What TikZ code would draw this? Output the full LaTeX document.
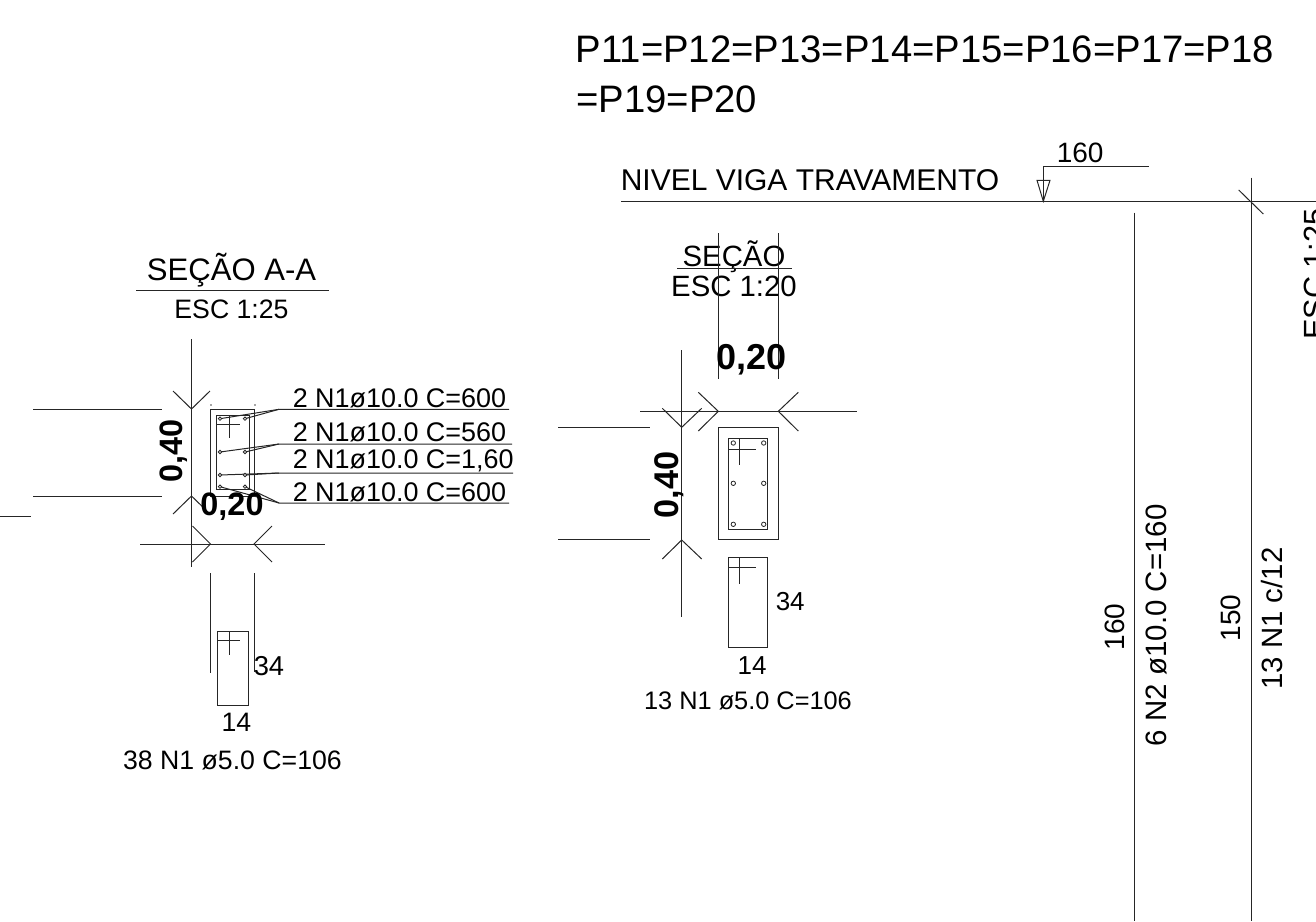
\documentclass[tikz,border=0pt]{standalone}
\usepackage{fontspec}
\setmainfont{Liberation Sans}
\tikzset{
  txt/.style = {inner sep=0pt, anchor=base west, font=\fontsize{#1}{#1}\selectfont},
  txtc/.style = {inner sep=0pt, anchor=base, font=\fontsize{#1}{#1}\selectfont},
  dimbold/.style = {inner sep=0pt, anchor=base, font=\fontsize{#1}{#1}\selectfont\bfseries},
  thinline/.style = {line width=0.75pt, black!85},
  bar/.style = {line width=0.6pt, fill=white, draw=black!85},
}
\begin{document}
\begin{tikzpicture}[x=0.75pt, y=-0.75pt]
    \useasboundingbox (0,0) rectangle (1316,921);
    % heading
    \node [txt=28.7] (headA) at (575.5,62) {P11=P12=P13=P14=P15=P16=P17=P18};
    \node [txt=28.7] (headB) at (576,112.5) {=P19=P20};
    % left section
    \node [txtc=23.3] (titleA) at (231.5,280) {SEÇÃO A-A};
    \node [txtc=20] (escA) at (231.5,318.5) {ESC 1:25};
    \draw [thinline] (136,290) --++ (193,0);
    \draw [thinline] (191.5,339) -- (191.5,567);
    \draw [thinline] (173,391) -- (191.5,409) -- (210,391);
    \draw [thinline] (173,514) -- (191.5,496) -- (210,514);
    \draw [thinline] (33,409) -- (162,409);
    \draw [thinline] (33,496) -- (162,496);
    \draw [thinline] (0,516.7) -- (31,516.7);
    \draw [thinline] (140,544) -- (325,544);
    \draw [thinline] (192.5,526) -- (210.5,544) -- (192.5,562);
    \draw [thinline] (272,526) -- (254,544) -- (272,562);
    \draw [thinline] (210.5,573) -- (210.5,673);
    \draw [thinline] (254,573) -- (254,672);
    \draw [thinline] (210.5,409) rectangle (254.5,496);
    \draw [thinline] (216.7,415) rectangle (249.3,489);
    \draw [thinline] (217,424) -- (240,424);
    \draw [thinline] (229,415) -- (229,438);
    \foreach \x in {211,255}
      \fill [black!70] (\x,405) circle (0.8);
    % leaders of the left section
    \draw [thinline] (220,418.7) -- (279,409.3) -- (509,409.3);
    \draw [thinline] (245,418.7) -- (279,409.3);
    \draw [thinline] (220,452) -- (279,444) -- (512,444);
    \draw [thinline] (245,452) -- (279,444);
    \draw [thinline] (220,475) -- (279,473) -- (513,473);
    \draw [thinline] (245,475) -- (279,473);
    \draw [thinline] (220,486.7) -- (279,503) -- (509,503);
    \draw [thinline] (245,486.7) -- (279,503);
    \foreach \x in {220,245}
      \foreach \y in {418.7,452,475,486.7}
        \draw [bar] (\x,\y) circle (1.7);
    \node [txt=20.2] (barA) at (292.5,407) {2 N1ø10.0 C=600};
    \node [txt=20.2] (barB) at (292.5,441.5) {2 N1ø10.0 C=560};
    \node [txt=20.2] (barC) at (292.5,468) {2 N1ø10.0 C=1,60};
    \node [txt=20.2] (barD) at (292.5,501.5) {2 N1ø10.0 C=600};
    \node [dimbold=24.3] (wideA) at (232,515) {0,20};
    \node [dimbold=24.3, rotate=90] (highA) at (182,450.5) {0,40};
    % left stirrup
    \draw [thinline] (217,631.3) rectangle (248,705);
    \draw [thinline] (217,640.7) -- (240,640.7);
    \draw [thinline] (229,631.3) -- (229,655);
    \node [txt=20.5] (sideA) at (253.5,675) {34};
    \node [txtc=20] (baseA) at (236.5,731) {14};
    \node [txtc=20] (noteA) at (232.5,769) {38 N1 ø5.0 C=106};
    % middle section
    \node [txtc=22] (titleB) at (734,266) {SEÇÃO};
    \node [txtc=22] (escB) at (734,296.7) {ESC 1:20};
    \draw [thinline] (677,268.3) -- (792,268.3);
    \draw [thinline] (718.3,233) -- (718.3,379);
    \draw [thinline] (778.3,233) -- (778.3,379);
    \node [dimbold=27] (wideB) at (751.5,369.5) {0,20};
    \draw [thinline] (640,411.3) -- (857,411.3);
    \draw [thinline] (698.3,392.3) -- (718.3,411.3) -- (698.3,431);
    \draw [thinline] (798.3,392.3) -- (778.3,411.3) -- (798.3,431);
    \draw [thinline] (681.7,350) -- (681.7,617);
    \draw [thinline] (662.3,408.3) -- (681.7,427.3) -- (701.7,408.3);
    \draw [thinline] (662.3,559) -- (681.7,540) -- (701.7,559);
    \draw [thinline] (558,427.5) -- (650,427.5);
    \draw [thinline] (558,539.5) -- (650,539.5);
    \draw [thinline] (718.3,427.7) rectangle (778.3,539.3);
    \draw [thinline] (728.7,438.3) rectangle (767.7,529);
    \draw [thinline] (728.7,438.3) rectangle (739.7,449.3);
    \draw [thinline] (739.7,449.3) -- (755.7,449.3);
    \draw [thinline] (739.7,449.3) -- (739.7,465);
    \foreach \x in {733.3,763.7}
      \foreach \y in {443,483.3,524.3}
        \draw [bar] (\x,\y) circle (2.2);
    \node [dimbold=25.7, rotate=90] (highB) at (678,485) {0,40};
    % middle stirrup
    \draw [thinline] (728.7,557) rectangle (767.7,647.3);
    \draw [thinline] (728.7,567.7) -- (755.7,567.7);
    \draw [thinline] (739.7,557) -- (739.7,584.3);
    \node [txt=19.5] (sideB) at (775.5,610.7) {34};
    \node [txtc=19.5] (baseB) at (752,674) {14};
    \node [txtc=19] (noteB) at (748,709) {13 N1 ø5.0 C=106};
    % level line and elevation
    \node [txt=22.5] (level) at (620.5,190.5) {NIVEL VIGA TRAVAMENTO};
    \node [txt=21] (levelVal) at (1056.5,162.3) {160};
    \draw [thinline] (621,201.3) -- (1316,201.3);
    \draw [thinline] (1226.7,201.3) -- (1235,201.3);
    \draw [thinline] (1043.3,201.3) -- (1043.3,166.7) -- (1148.7,166.7);
    \draw [thinline] (1037,180.3) -- (1050,180.3) -- (1043.3,201.3) -- cycle;
    \draw [thinline] (1134.3,212.7) -- (1134.3,921);
    \draw [thinline] (1251,177.7) -- (1251,921);
    \draw [thinline] (1238.7,190) -- (1263.3,214);
    \node [txtc=21, rotate=90] (heightA) at (1124,627) {160};
    \node [txtc=22.1, rotate=90] (barE) at (1166,625.3) {6 N2 ø10.0 C=160};
    \node [txtc=21, rotate=90] (heightB) at (1240,618) {150};
    \node [txtc=22, rotate=90] (stirrupC) at (1282,618.5) {13 N1 c/12};
    \node [txtc=23, rotate=90] (escC) at (1325,274) {ESC 1:25};
  \end{tikzpicture}
\end{document}
